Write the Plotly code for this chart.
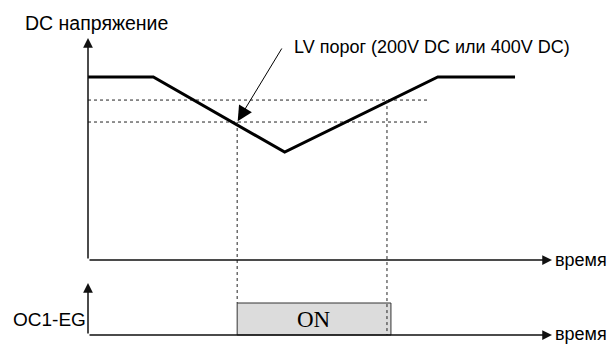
import plotly.graph_objects as go

# DC bus voltage profile (time units, voltage in % of nominal)
t_volt = [0.0, 0.99, 2.98, 5.3, 6.47]
v_volt = [100, 100, 59, 100, 100]

# LV thresholds (release / trip) and where they are crossed
v_levels = [87.4, 75.4]
t_levels_end = 5.15
t_trip = 2.26
t_release = 4.53

# OC1-EG output window
t_on = [2.26, 4.59]
on_level = 1

t_axis_end = 7.03
v_axis_top = 121.3
sig_axis_top = 1.625

X_RANGE = [-1.3333, 8.0]
Y1 = [-45.90, 142.08]
Y2 = [-0.28125, 10.46875]


def v_to_sig(v):
    frac = (v - Y1[0]) / (Y1[1] - Y1[0])
    return Y2[0] + frac * (Y2[1] - Y2[0])


fig = go.Figure()

# threshold dotted lines
for lvl in v_levels:
    fig.add_trace(go.Scatter(x=[0, t_levels_end], y=[lvl, lvl], mode='lines',
                             line=dict(color='#222', width=1, dash='dot'),
                             yaxis='y', hoverinfo='skip'))

# vertical dotted guides down to OC1-EG
fig.add_trace(go.Scatter(x=[t_trip, t_trip], y=[v_to_sig(v_levels[1]), on_level],
                         mode='lines', line=dict(color='#222', width=1, dash='dot'),
                         yaxis='y2', hoverinfo='skip'))
fig.add_trace(go.Scatter(x=[t_release, t_release], y=[v_to_sig(v_levels[0]), 0],
                         mode='lines', line=dict(color='#222', width=1, dash='dot'),
                         yaxis='y2', hoverinfo='skip'))

# voltage curve
fig.add_trace(go.Scatter(x=t_volt, y=v_volt, mode='lines',
                         line=dict(color='black', width=3), yaxis='y',
                         hoverinfo='skip'))

# ON box
fig.add_shape(type='rect', xref='x', yref='y2', x0=t_on[0], x1=t_on[1],
              y0=0, y1=on_level, fillcolor='#dcdcdc',
              line=dict(color='#333', width=1), layer='below')

arrow_style = dict(text='', showarrow=True, arrowhead=2, arrowsize=1.3,
                   arrowwidth=1.5, arrowcolor='#111', standoff=0)

# axes as arrows
fig.add_annotation(x=0, y=v_axis_top, ax=0, ay=0, xref='x', yref='y',
                   axref='x', ayref='y', **arrow_style)
fig.add_annotation(x=t_axis_end, y=0, ax=0, ay=0, xref='x', yref='y',
                   axref='x', ayref='y', **arrow_style)
fig.add_annotation(x=0, y=sig_axis_top, ax=0, ay=0, xref='x', yref='y2',
                   axref='x', ayref='y2', **arrow_style)
fig.add_annotation(x=t_axis_end, y=0, ax=0, ay=0, xref='x', yref='y2',
                   axref='x', ayref='y2', **arrow_style)

# LV threshold pointer
fig.add_annotation(x=t_trip, y=v_levels[1], ax=2.95, ay=116.4, xref='x', yref='y',
                   axref='x', ayref='y', text='', showarrow=True, arrowhead=2,
                   arrowsize=3, arrowwidth=1, arrowcolor='black', standoff=1)

font = dict(family='Liberation Sans, Arial', size=18, color='black')

fig.add_annotation(x=3.09, y=116.4, xref='x', yref='y', text='LV порог (200V DC или 400V DC)',
                   showarrow=False, xanchor='left', font=font)
fig.add_annotation(x=-0.985, y=129.5, xref='x', yref='y', text='DC напряжение',
                   showarrow=False, xanchor='left', font=dict(font, size=19.5))
fig.add_annotation(x=7.04, y=0, xref='x', yref='y', text='время',
                   showarrow=False, xanchor='left', font=font)
fig.add_annotation(x=7.04, y=0.04, xref='x', yref='y2', text='время',
                   showarrow=False, xanchor='left', font=font)
fig.add_annotation(x=0.0, y=0.47, xref='x', yref='y2', text='OC1-EG',
                   showarrow=False, xanchor='right', font=dict(font, size=19))
fig.add_annotation(x=sum(t_on) / 2, y=on_level / 2, xref='x', yref='y2', text='ON',
                   showarrow=False,
                   font=dict(family='Liberation Serif, Times New Roman', size=23, color='black'))

fig.update_layout(
    width=616, height=344,
    margin=dict(l=0, r=0, t=0, b=0),
    plot_bgcolor='white', paper_bgcolor='white',
    showlegend=False,
    xaxis=dict(range=X_RANGE, visible=False, fixedrange=True),
    yaxis=dict(range=Y1, visible=False, fixedrange=True),
    yaxis2=dict(range=Y2, visible=False, overlaying='y', fixedrange=True),
)

fig.write_html("out.html", config={'displayModeBar': False},
               post_script="document.body.style.margin='0';")
